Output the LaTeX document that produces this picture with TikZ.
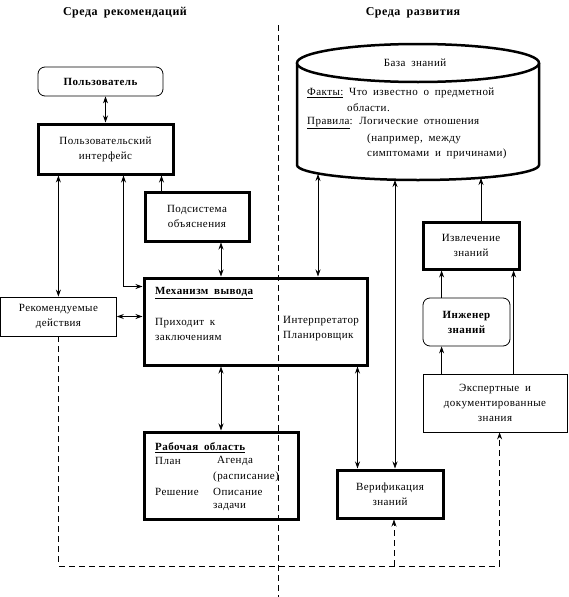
\documentclass[tikz,border=0pt]{standalone}
\usepackage{fontspec}
\setmainfont[LetterSpace=4, WordSpace=1.8]{Liberation Serif}
\usetikzlibrary{arrows.meta,calc}
\begin{document}
\begin{tikzpicture}[x=1pt,y=-1pt,
  every node/.style={font=\fontsize{11}{15}\selectfont, inner sep=0pt},
  thickbox/.style={draw, line width=3pt, align=center},
  thinbox/.style={draw, line width=0.8pt, align=center},
  roundbox/.style={draw, line width=0.8pt, rounded corners=7pt, align=center, font=\fontsize{11}{15}\selectfont\bfseries},
  conn/.style={line width=0.8pt},
  tip/.tip={Stealth[length=7pt,width=5pt]},
  dar/.style={conn, tip-tip},
  sar/.style={conn, -tip},
  dline/.style={line width=0.8pt, dash pattern=on 6pt off 4pt},
  dsar/.style={dline, -tip},
  title/.style={font=\fontsize{12}{14}\selectfont\bfseries},
  lbl/.style={anchor=west},
  blbl/.style={anchor=west, font=\fontsize{11}{15}\selectfont\bfseries},
]
\useasboundingbox (0,0) rectangle (568,597);

% titles
\node[title] (t1) at (125,13) {Среда рекомендаций};
\node[title] (t2) at (413,13) {Среда развития};

% left side boxes
\node[roundbox, minimum width=125, minimum height=29] (user) at (100.5,81.5) {Пользователь};
\node[thickbox, minimum width=135, minimum height=50] (ui) at (105.5,149) {Пользовательский\\интерфейс};
\node[thickbox, minimum width=104, minimum height=49] (explain) at (197,216.5) {Подсистема\\объяснения};
\node[thickbox, minimum width=223, minimum height=87] (mech) at (255.5,321.5) {};
\node[thinbox, minimum width=116, minimum height=39] (rec) at (58.4,316.5) {Рекомендуемые\\действия};
\node[thickbox, minimum width=154, minimum height=87] (work) at (221,475.5) {};
\node[thickbox, minimum width=106, minimum height=48] (verif) at (390,494) {Верификация\\знаний};

% mechanism content
\node[blbl] (mechT) at (155,293) {\underline{Механизм вывода}};
\node[lbl, align=left] (mechL) at (155,329) {Приходит к\\заключениям};
\node[lbl, align=left] (mechR) at (283,329) {Интерпретатор\\Планировщик};

% working area content
\node[blbl] (workT) at (155,448) {\underline{Рабочая область}};
\node[lbl] (w1) at (155,461) {План};
\node[lbl] (w2) at (217,461) {Агенда};
\node[lbl] (w3) at (213,477) {(расписание)};
\node[lbl] (w4) at (155,492) {Решение};
\node[lbl] (w5) at (213,492) {Описание};
\node[lbl] (w6) at (213,507) {задачи};

% knowledge base cylinder
\draw[line width=2.5pt] (297,63) -- (297,165) arc[start angle=180, end angle=360, x radius=121pt, y radius=15pt] -- (539,63);
\draw[line width=2.5pt, fill=white] (418,63) ellipse [x radius=121pt, y radius=19pt];
\node (kbT) at (415,63) {База знаний};
\node[lbl] (kb1) at (307,93) {\underline{Факты:} Что известно о предметной};
\node[lbl] (kb2) at (347,108) {области.};
\node[lbl] (kb3) at (307,123) {\underline{Правила}: Логические отношения};
\node[lbl] (kb4) at (367,139) {(например, между};
\node[lbl] (kb5) at (367,154) {симптомами и причинами)};
\coordinate (kbA) at (318,174);
\coordinate (kbB) at (395,180);
\coordinate (kbC) at (481,178);

% right side boxes
\node[thickbox, minimum width=96, minimum height=47] (extract) at (471,245.5) {Извлечение\\знаний};
\node[roundbox, minimum width=87, minimum height=48] (eng) at (466.5,322) {Инженер\\знаний};
\node[thinbox, minimum width=144, minimum height=58] (expert) at (495,403) {Экспертные и\\документированные\\знания};

% connectors
\draw[dar] (ui.north |- user.south) -- (ui.north);
\draw[dar] (ui.south -| rec.north) -- (rec.north);
\draw[dar] ($(ui.south west)+(87,0)$) coordinate (cUI) |- ($(mech.north west)+(0,10)$);
\draw[sar] ($(explain.north west)+(18,0)$) coordinate (cEx) -- (cEx |- ui.south);
\draw[dar] (work.north |- explain.south) -- (work.north |- mech.north);
\draw[dar] (rec.east) -- (rec.east -| mech.west);
\draw[dar] (work.north |- mech.south) -- (work.north);
\draw[dar] (kbA) -- (kbA |- mech.north);
\draw[dar] (kbB) -- (kbB |- verif.north);
\draw[dar] ($(mech.south east)+(-11,0)$) coordinate (cMV) -- (cMV |- verif.north);
\draw[sar] (kbC |- extract.north) -- (kbC);
\draw[sar] ($(eng.north west)+(19,0)$) coordinate (cEn) -- (cEn |- extract.south);
\draw[sar] (cEn |- expert.north) -- (cEn |- eng.south);
\draw[sar] ($(expert.north west)+(91,0)$) coordinate (cEx2) -- (cEx2 |- extract.south);

% dashed feedback
\coordinate (dbot) at (0,566);
\coordinate (eA) at ($(expert.south west)+(77,0)$);
\coordinate (vA) at ($(verif.south)+(4,0)$);
\draw[dline] (rec.south) -- (rec.south |- dbot) -- (eA |- dbot);
\draw[dsar] (eA |- dbot) -- (eA);
\draw[dsar] (vA |- dbot) -- (vA);

% divider
\coordinate (divT) at (278,25);
\coordinate (divB) at (278,597);
\draw[dline] (divT) -- (divB);
\end{tikzpicture}
\end{document}
